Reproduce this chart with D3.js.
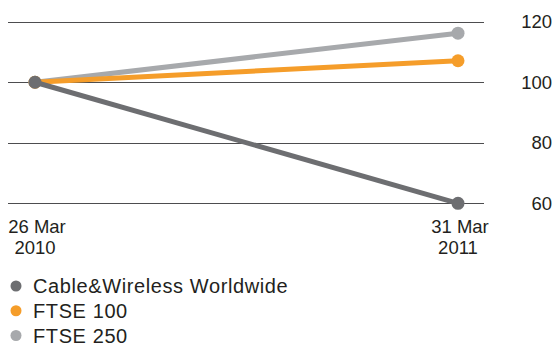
<!DOCTYPE html>
<html>
<head>
<meta charset="utf-8">
<script src="https://cdn.jsdelivr.net/npm/d3@7"></script>
<style>
  body { margin: 0; background: #fff; }
  svg text { font-family: "Liberation Sans", Arial, sans-serif; fill: #231f20; }
</style>
</head>
<body>
<div id="chart"></div>
<script>
// data
const dates = [["26 Mar", "2010"], ["31 Mar", "2011"]];
const seriesNames = ["Cable&Wireless Worldwide", "FTSE 100", "FTSE 250"];
const cwwValues = [100, 60];
const ftse100Values = [100, 107.1];
const ftse250Values = [100, 116.2];
const yTicks = [60, 80, 100, 120];

const colors = ["#6d6e71", "#f59d2a", "#a7a9ac"];
const allSeries = [cwwValues, ftse100Values, ftse250Values];

const width = 556, height = 347;

const svg = d3.select("#chart").append("svg")
  .attr("width", width)
  .attr("height", height);

let x = d3.scalePoint()
  .domain(d3.range(dates.length))
  .range([35, 458]);

let y = d3.scaleLinear()
  .domain([60, 120])
  .range([203.3, 21.7]);

// gridlines
svg.append("g")
  .selectAll("line")
  .data(yTicks)
  .join("line")
    .attr("x1", 8)
    .attr("x2", 484)
    .attr("y1", d => Math.round(y(d)) + 0.5)
    .attr("y2", d => Math.round(y(d)) + 0.5)
    .attr("stroke", "#4d4d4f")
    .attr("stroke-width", 1);

// right hand tick labels
svg.append("g")
  .selectAll("text")
  .data(yTicks)
  .join("text")
    .attr("x", 552)
    .attr("y", d => y(d))
    .attr("dy", "0.35em")
    .attr("text-anchor", "end")
    .style("font-size", "18.5px")
    .text(d => d);

// date labels, two lines each
let dateLabels = svg.append("g")
  .selectAll("text")
  .data(dates)
  .join("text")
    .attr("text-anchor", "middle")
    .style("font-size", "18.5px");

dateLabels.append("tspan")
  .attr("x", (d, i) => x(i) + 2)
  .attr("y", 232.5)
  .text(d => d[0]);

dateLabels.append("tspan")
  .attr("x", (d, i) => x(i))
  .attr("y", 253.5)
  .text(d => d[1]);

// lines: draw light grey first so the dark one ends up on top
const drawOrder = [2, 1, 0];
let line = d3.line()
  .x((d, i) => x(i))
  .y(d => y(d));

drawOrder.forEach(k => {
  let g = svg.append("g");
  g.append("path")
    .datum(allSeries[k])
    .attr("d", line)
    .attr("fill", "none")
    .attr("stroke", colors[k])
    .attr("stroke-width", 5);
  g.selectAll("circle")
    .data(allSeries[k])
    .join("circle")
      .attr("cx", (d, i) => x(i))
      .attr("cy", d => y(d))
      .attr("r", 6.5)
      .attr("fill", colors[k]);
});

// legend
let legend = svg.append("g")
  .selectAll("g")
  .data(seriesNames)
  .join("g")
    .attr("transform", (d, i) => `translate(0,${293 + i * 24.75})`);

legend.append("circle")
  .attr("cx", 16)
  .attr("cy", -7)
  .attr("r", 5.5)
  .attr("fill", (d, i) => colors[i]);

legend.append("text")
  .attr("x", 33)
  .attr("y", 0)
  .style("font-size", "20px")
  .style("letter-spacing", "0.6px")
  .text(d => d);
</script>
</body>
</html>
